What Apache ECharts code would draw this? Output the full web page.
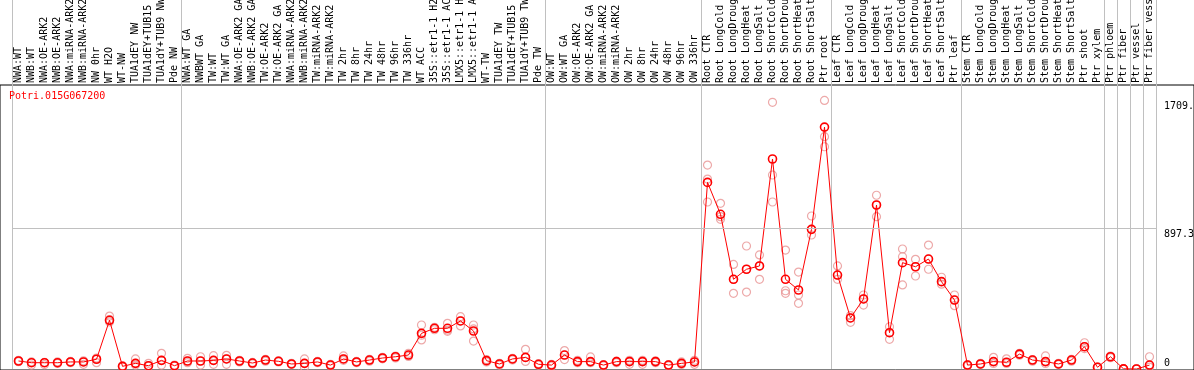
<!DOCTYPE html>
<html>
<head>
<meta charset="utf-8">
<script src="https://cdn.jsdelivr.net/npm/echarts@6/dist/echarts.min.js"></script>
<style>
html, body { margin: 0; padding: 0; background: #fff; }
#chart { width: 1194px; height: 370px; }
</style>
</head>
<body>
<div id="chart"></div>
<script>
var geneName = 'Potri.015G067200'

var categories = [
    'NWA:WT', 'NWB:WT', 'NWA:OE-ARK2', 'NWB:OE-ARK2', 'NWA:miRNA-ARK2', 'NWB:miRNA-ARK2',
    'NW 0hr', 'WT H2O', 'WT-NW', 'TUA1dEY NW', 'TUA1dEY+TUB15 NW', 'TUA1dY+TUB9 NW', 'Pde NW',
    'NWA:WT GA', 'NWBWT GA', 'TW:WT', 'TW:WT GA', 'NWA:OE-ARK2 GA', 'NWB:OE-ARK2 GA',
    'TW:OE-ARK2', 'TW:OE-ARK2 GA', 'NWA:miRNA-ARK2 GA', 'NWB:miRNA-ARK2 GA', 'TW:miRNA-ARK2',
    'TW:miRNA-ARK2', 'TW 2hr', 'TW 8hr', 'TW 24hr', 'TW 48hr', 'TW 96hr', 'TW 336hr', 'WT ACC',
    '35S::etr1-1 H2O', '35S::etr1-1 ACC', 'LMX5::etr1-1 H2O', 'LMX5::etr1-1 ACC', 'WT-TW',
    'TUA1dEY TW', 'TUA1dEY+TUB15 TW', 'TUA1dY+TUB9 TW', 'Pde TW',
    'OW:WT', 'OW:WT GA', 'OW:OE-ARK2', 'OW:OE-ARK2 GA', 'OW:miRNA-ARK2', 'OW:miRNA-ARK2',
    'OW 2hr', 'OW 8hr', 'OW 24hr', 'OW 48hr', 'OW 96hr', 'OW 336hr',
    'Root CTR', 'Root LongCold', 'Root LongDrought', 'Root LongHeat', 'Root LongSalt',
    'Root ShortCold', 'Root ShortDrought', 'Root ShortHeat', 'Root ShortSalt', 'Ptr root',
    'Leaf CTR', 'Leaf LongCold', 'Leaf LongDrought', 'Leaf LongHeat', 'Leaf LongSalt',
    'Leaf ShortCold', 'Leaf ShortDrought', 'Leaf ShortHeat', 'Leaf ShortSalt', 'Ptr leaf',
    'Stem CTR', 'Stem LongCold', 'Stem LongDrought', 'Stem LongHeat', 'Stem LongSalt',
    'Stem ShortCold', 'Stem ShortDrought', 'Stem ShortHeat', 'Stem ShortSalt', 'Ptr shoot',
    'Ptr xylem', 'Ptr phloem', 'Ptr fiber', 'Ptr vessel', 'Ptr fiber vessel'
]

// first category of each boxed group
var groupStarts = [0, 13, 41, 53, 63, 73, 84, 85, 86, 87]

var meanValues = [
    51, 40, 40, 40, 45, 45, 62, 310, 17, 36, 21, 55, 21,
    51, 51, 55, 64, 51, 38, 57, 49, 32, 36, 45, 25, 64, 45, 57, 70, 78, 89,
    227, 259, 259, 306, 242, 53, 32, 64, 74, 30,
    25, 89, 47, 47, 25, 47, 47, 47, 47, 25, 36, 45,
    1188, 985, 571, 635, 656, 1337, 571, 503, 889, 1540,
    598, 325, 446, 1044, 231, 677, 651, 700, 556, 439,
    25, 32, 47, 43, 95, 57, 47, 32, 57, 142, 11,
    78, 1, 0, 25
]

var repHigh = [
    55, 45, 42, 45, 48, 52, 70, 337, 20, 64, 36, 100, 25,
    68, 78, 85, 87, 55, 42, 62, 52, 36, 64, 48, 30, 83, 48, 62, 74, 82, 100,
    280, 265, 291, 333, 280, 60, 36, 68, 125, 34,
    30, 117, 55, 77, 28, 50, 55, 55, 52, 28, 45, 55,
    1298, 1055, 666, 783, 726, 1698, 757, 617, 974, 1709.6,
    656, 340, 471, 1106, 269, 764, 698, 789, 584, 471,
    28, 36, 74, 65, 100, 60, 83, 36, 62, 167, 14,
    82, 2, 2, 78
]

var repMid = [
    51, 42, 40, 40, 45, 45, 65, 315, 17, 36, 21, 55, 21,
    51, 51, 55, 64, 51, 38, 57, 49, 32, 36, 45, 25, 64, 45, 57, 70, 78, 89,
    215, 259, 248, 306, 255, 53, 32, 64, 74, 30,
    25, 89, 47, 47, 25, 47, 47, 47, 47, 25, 36, 45,
    1209, 970, 571, 635, 656, 1235, 498, 471, 889, 1479,
    598, 325, 446, 1044, 231, 715, 651, 700, 556, 439,
    25, 32, 47, 43, 95, 57, 47, 32, 57, 142, 11,
    78, 1, 0, 25
]

var repLow = [
    46, 25, 28, 35, 40, 30, 40, 300, 14, 25, 18, 25, 18,
    40, 25, 30, 30, 45, 32, 50, 45, 28, 11, 40, 20, 55, 40, 50, 65, 70, 80,
    185, 250, 240, 274, 178, 45, 25, 58, 48, 25,
    18, 60, 40, 40, 20, 40, 30, 30, 40, 20, 28, 30,
    1063, 953, 482, 490, 571, 1063, 482, 418, 853, 1415,
    571, 297, 407, 970, 189, 535, 592, 635, 540, 403,
    20, 28, 35, 35, 88, 50, 35, 28, 50, 130, 8,
    72, 0, 0, 12
]

var yTicks = [0, 897.3, 1709.6]
var yMax = 1808

var mono = 'DejaVu Sans Mono'
var sepColor = '#c0c0c0'
var repColor = '#e89494'

function isGroupStart(index) {
    return groupStarts.indexOf(index) >= 0
}

var chart = echarts.init(document.getElementById('chart'))

function repSeries(values) {
    return {
        type: 'scatter',
        xAxisIndex: 0,
        yAxisIndex: 0,
        data: values,
        symbol: 'circle',
        symbolSize: 8,
        itemStyle: {
            color: 'rgba(0,0,0,0)',
            borderColor: repColor,
            borderWidth: 1.2
        },
        silent: true,
        z: 2
    }
}

var option = {
    animation: false,
    backgroundColor: '#fff',
    textStyle: { fontFamily: mono },
    title: {
        text: geneName,
        left: 9,
        top: 91,
        padding: 0,
        textStyle: {
            color: '#ff0000',
            fontFamily: mono,
            fontSize: 10,
            fontWeight: 'normal'
        }
    },
    grid: [
        // plot
        { left: 12, right: 38, top: 85, bottom: 1, outerBoundsMode: 'none', containLabel: false },
        // label band, only carries the group separators
        { left: 12, right: 38, top: 0, height: 85, outerBoundsMode: 'none', containLabel: false },
        // outer frame
        {
            left: 0, right: 0, top: 85, bottom: 0, outerBoundsMode: 'none', containLabel: false,
            show: true, borderColor: '#000', borderWidth: 1
        }
    ],
    xAxis: [
        {
            type: 'category',
            gridIndex: 0,
            position: 'top',
            data: categories,
            boundaryGap: true,
            axisLine: { show: false },
            axisTick: { show: false },
            axisLabel: {
                interval: 0,
                rotate: 90,
                margin: 2,
                color: '#000',
                fontFamily: mono,
                fontSize: 10
            },
            splitLine: {
                show: true,
                interval: isGroupStart,
                lineStyle: { color: sepColor, width: 1 }
            }
        },
        {
            type: 'category',
            gridIndex: 1,
            data: categories,
            boundaryGap: true,
            axisLine: { show: false },
            axisTick: { show: false },
            axisLabel: { show: false },
            splitLine: {
                show: true,
                interval: isGroupStart,
                lineStyle: { color: sepColor, width: 1 }
            }
        },
        { type: 'value', gridIndex: 2, show: false }
    ],
    yAxis: [
        {
            type: 'value',
            gridIndex: 0,
            position: 'right',
            min: 0,
            max: yMax,
            axisLine: { show: false },
            axisTick: { show: false },
            splitLine: { show: false },
            axisLabel: {
                customValues: yTicks,
                margin: 8,
                color: '#000',
                fontFamily: mono,
                fontSize: 10,
                lineHeight: 12,
                formatter: function (v) {
                    return v === 0 ? '0\n' : '\n' + v
                }
            }
        },
        { type: 'value', gridIndex: 1, show: false, min: 0, max: 1 },
        { type: 'value', gridIndex: 2, show: false }
    ],
    series: [
        repSeries(repHigh),
        repSeries(repMid),
        repSeries(repLow),
        {
            type: 'line',
            xAxisIndex: 0,
            yAxisIndex: 0,
            data: meanValues,
            symbol: 'circle',
            symbolSize: 8,
            showAllSymbol: true,
            itemStyle: {
                color: 'rgba(0,0,0,0)',
                borderColor: '#ff0000',
                borderWidth: 1.6
            },
            lineStyle: { color: '#ff0000', width: 1 },
            markLine: {
                silent: true,
                symbol: 'none',
                label: { show: false },
                lineStyle: { color: sepColor, width: 1, type: 'solid' },
                data: [{ yAxis: yTicks[1] }]
            },
            z: 3
        }
    ]
}

chart.setOption(option)
</script>
</body>
</html>
